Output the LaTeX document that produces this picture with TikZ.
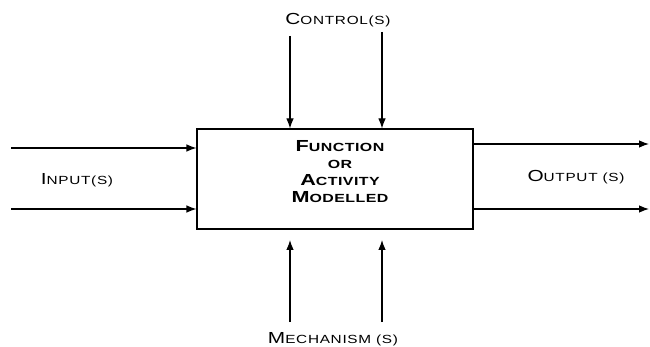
\documentclass[tikz,border=0pt]{standalone}
\usepackage{fontspec}
\usetikzlibrary{arrows.meta}
\newfontfamily\lblfont[FakeStretch=1.3,LetterSpace=6]{Liberation Sans}
\newfontfamily\boxfont[FakeStretch=1.35,LetterSpace=4]{Liberation Sans}
% big first letter, rest in smaller capitals
\newcommand\capsc[2]{{\fontsize{16}{18}\selectfont #1}{\fontsize{11.8}{13}\selectfont #2}}

\begin{document}
\begin{tikzpicture}[x=1pt,y=-1pt,line width=1.1pt]
    \tikzstyle{label}=[font=\lblfont,inner sep=0pt]
    \tikzstyle{flow}=[-{Latex[length=10pt,width=7.5pt]}]
    \useasboundingbox (0,0) rectangle (650,347);

    \node[draw,minimum width=276pt,minimum height=100pt,inner sep=0pt] (box) at (335,179) {};
    \node[align=center,inner sep=0pt,font={\boxfont\bfseries\fontsize{11.8}{17}\selectfont}] (title) at (340,172)
        {\capsc{F}{UNCTION}\\OR\\\capsc{A}{CTIVITY}\\\capsc{M}{ODELLED}};

    \foreach \i/\y in {1/148, 2/209} {
        \coordinate (in-\i) at (11,\y);
        \draw[flow] (in-\i) -- (in-\i -| box.west);
    }
    \foreach \i/\y in {1/144, 2/209} {
        \coordinate (out-\i) at (649,\y);
        \draw[flow] (out-\i -| box.east) -- (out-\i);
    }
    \foreach \i/\x/\t in {1/290/36, 2/382/32} {
        \coordinate (ctl-\i) at (\x,\t);
        \draw[flow] (ctl-\i) -- (ctl-\i |- box.north);
    }
    % these stop a little below the box
    \foreach \i/\x in {1/290, 2/382} {
        \coordinate (mech-\i) at (\x,322);
        \coordinate (mtip-\i) at (\x,240);
        \draw[flow] (mech-\i) -- (mtip-\i);
    }

    \node[label] (control) at (338,20) {\capsc{C}{ONTROL(S)}};
    \node[label] (mechanism) at (333,339) {\capsc{M}{ECHANISM (S)}};
    \node[label] (input) at (77,180) {\capsc{I}{NPUT(S)}};
    \node[label] (output) at (576,177) {\capsc{O}{UTPUT (S)}};
\end{tikzpicture}
\end{document}
